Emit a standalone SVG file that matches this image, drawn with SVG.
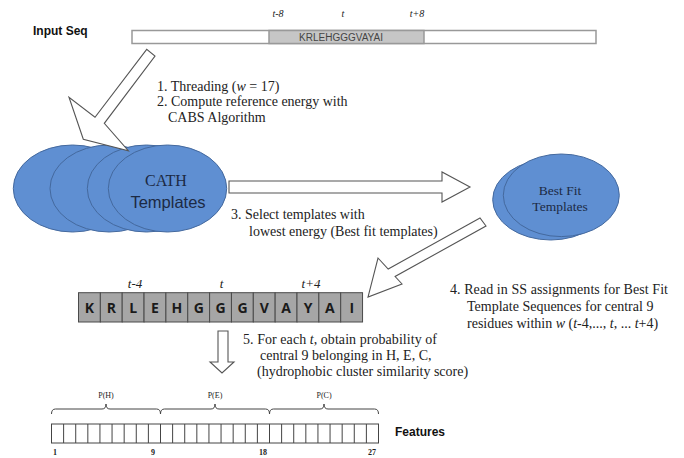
<svg xmlns="http://www.w3.org/2000/svg" width="684" height="458" viewBox="0 0 684 458">
<defs>
<style>
.serif{font-family:"Liberation Serif","Times New Roman",serif;fill:#222}
.sans{font-family:"Liberation Sans",Arial,sans-serif}
.bold{font-family:"Liberation Sans",Arial,sans-serif;font-weight:bold;fill:#111}
.step{font-family:"Liberation Serif","Times New Roman",serif;font-size:14px;fill:#222}
.it{font-style:italic}
.ell{fill:#5f8fd2;stroke:#44699e;stroke-width:1}
.arrow{fill:#fff;stroke:#555;stroke-width:1.1;stroke-linejoin:miter}
.seqbox{fill:#a6a6a6;stroke:#4a4a4a;stroke-width:1}
.seqltr{font-family:"Open Sans","Liberation Sans",sans-serif;font-weight:bold;font-size:14px;fill:#1a1a1a;text-anchor:middle}
.cell{fill:#fff;stroke:#444;stroke-width:1}
.brace{fill:none;stroke:#444;stroke-width:1}
.small{font-family:"Liberation Serif","Times New Roman",serif;font-size:8px;fill:#222;text-anchor:middle}
</style>
</defs>
<rect width="684" height="458" fill="#fff"/>

<g id="input-seq">
<text class="bold" x="33" y="35" font-size="12">Input Seq</text>
<rect x="132" y="30.5" width="464" height="13" fill="#fff" stroke="#999" stroke-width="1.5"/>
<rect x="269" y="30.5" width="155" height="13" fill="#c6c6c6" stroke="#999" stroke-width="1.5"/>
<text class="sans" x="341" y="41" font-size="10" fill="#444" text-anchor="middle">KRLEHGGGVAYAI</text>
<text class="serif it" x="278" y="17" font-size="10" text-anchor="middle">t-8</text>
<text class="serif it" x="343" y="17" font-size="10" text-anchor="middle">t</text>
<text class="serif it" x="417" y="17" font-size="10" text-anchor="middle">t+8</text>
</g>

<g id="cath-templates">
<ellipse class="ell" cx="72.5" cy="188.5" rx="59.2" ry="43.5"/>
<ellipse class="ell" cx="109.2" cy="188.5" rx="59.2" ry="43.5"/>
<ellipse class="ell" cx="146.5" cy="188.5" rx="59.2" ry="43.5"/>
<ellipse class="ell" cx="167.5" cy="188.5" rx="59.2" ry="43.5"/>
<text class="serif" x="166" y="186" font-size="16" fill="#1c2a44" text-anchor="middle" style="fill:#1c2a44">CATH</text>
<text class="sans" x="168" y="208" font-size="16.5" fill="#1c2a44" text-anchor="middle">Templates</text>
</g>

<g id="best-fit-templates">
<ellipse class="ell" cx="550.7" cy="199.7" rx="58" ry="40.3"/>
<ellipse class="ell" cx="561.3" cy="195.3" rx="58" ry="41.3"/>
<text class="serif" x="560" y="195" font-size="13.5" text-anchor="middle" style="fill:#1c2a44">Best Fit</text>
<text class="serif" x="560" y="211" font-size="13.5" text-anchor="middle" style="fill:#1c2a44">Templates</text>
</g>

<g id="sequence-window">
<text class="serif it" x="135" y="288" font-size="13" text-anchor="middle">t-4</text>
<text class="serif it" x="221.5" y="288" font-size="13" text-anchor="middle">t</text>
<text class="serif it" x="311" y="288" font-size="13" text-anchor="middle">t+4</text>
<rect class="seqbox" x="78.5" y="292.7" width="21.85" height="29.3"/>
<rect class="seqbox" x="100.35" y="292.7" width="21.85" height="29.3"/>
<rect class="seqbox" x="122.2" y="292.7" width="21.85" height="29.3"/>
<rect class="seqbox" x="144.05" y="292.7" width="21.85" height="29.3"/>
<rect class="seqbox" x="165.9" y="292.7" width="21.85" height="29.3"/>
<rect class="seqbox" x="187.75" y="292.7" width="21.85" height="29.3"/>
<rect class="seqbox" x="209.6" y="292.7" width="21.85" height="29.3"/>
<rect class="seqbox" x="231.45" y="292.7" width="21.85" height="29.3"/>
<rect class="seqbox" x="253.3" y="292.7" width="21.85" height="29.3"/>
<rect class="seqbox" x="275.15" y="292.7" width="21.85" height="29.3"/>
<rect class="seqbox" x="297" y="292.7" width="21.85" height="29.3"/>
<rect class="seqbox" x="318.85" y="292.7" width="21.85" height="29.3"/>
<rect class="seqbox" x="340.7" y="292.7" width="21.85" height="29.3"/>
<text class="seqltr" y="312.5"><tspan x="89.4">K</tspan><tspan x="111.3">R</tspan><tspan x="133.2">L</tspan><tspan x="155">E</tspan><tspan x="176.9">H</tspan><tspan x="198.7">G</tspan><tspan x="220.6">G</tspan><tspan x="242.5">G</tspan><tspan x="264.3">V</tspan><tspan x="286.2">A</tspan><tspan x="308">Y</tspan><tspan x="329.9">A</tspan><tspan x="351.7">I</tspan></text>
</g>

<g id="features">
<text class="small" x="106" y="398">P(H)</text>
<text class="small" x="215" y="398">P(E)</text>
<text class="small" x="324" y="398">P(C)</text>
<path class="brace" d="M51.5,414 Q51.5,409 55.5,409 L102,409 Q106,409 106,404 Q106,409 110,409 L156.5,409 Q160.5,409 160.5,414"/>
<path class="brace" d="M160.5,414 Q160.5,409 164.5,409 L211,409 Q215,409 215,404 Q215,409 219,409 L265.5,409 Q269.5,409 269.5,414"/>
<path class="brace" d="M269.5,414 Q269.5,409 273.5,409 L320,409 Q324,409 324,404 Q324,409 328,409 L374.5,409 Q378.5,409 378.5,414"/>
<rect class="cell" x="51.5" y="424" width="327" height="19"/>
<path class="brace" d="M63.61,424V443M75.72,424V443M87.83,424V443M99.94,424V443M112.06,424V443M124.17,424V443M136.28,424V443M148.39,424V443M160.5,424V443M172.61,424V443M184.72,424V443M196.83,424V443M208.94,424V443M221.06,424V443M233.17,424V443M245.28,424V443M257.39,424V443M269.5,424V443M281.61,424V443M293.72,424V443M305.83,424V443M317.94,424V443M330.06,424V443M342.17,424V443M354.28,424V443M366.39,424V443"/>
<text class="small" font-weight="bold" x="55" y="455">1</text>
<text class="small" font-weight="bold" x="153" y="455">9</text>
<text class="small" font-weight="bold" x="263" y="455">18</text>
<text class="small" font-weight="bold" x="372" y="455">27</text>
<text class="bold" x="395" y="436" font-size="12">Features</text>
</g>

<g id="connectors">
<polygon class="arrow" points="146.7,49.3 95,117.3 69,97.3 83.3,139.3 128.3,150.7 104.3,123.3 155,56"/>
<polygon class="arrow" points="229,181 442,181 442,172 470,187 442,202 442,193 229,193"/>
<polygon class="arrow" points="480,218 388.2,269 378,258 368,297 402,284 395.1,276.5 486,226"/>
<polygon class="arrow" points="218,331 228,331 228,362 234,362 222,373 210,362 218,362"/>
</g>

<g id="step-labels">
<text class="step" x="157" y="91">1. Threading  (<tspan class="it">w</tspan> = 17)</text>
<text class="step" x="157" y="106">2. Compute reference energy with</text>
<text class="step" x="168" y="122">CABS Algorithm</text>
<text class="step" x="231" y="219">3. Select templates with</text>
<text class="step" x="249" y="236">lowest energy (Best fit templates)</text>
<text class="step" x="450" y="294" textLength="218">4.  Read in SS assignments  for Best Fit</text>
<text class="step" x="467" y="311">Template Sequences for central 9</text>
<text class="step" x="467" y="328">residues within  <tspan class="it">w</tspan> (<tspan class="it">t</tspan>-4,..., <tspan class="it">t</tspan>, ... <tspan class="it">t</tspan>+4)</text>
<text class="step" x="243" y="344" textLength="194">5. For each <tspan class="it">t</tspan>, obtain probability of</text>
<text class="step" x="260" y="360">central 9 belonging in H, E, C,</text>
<text class="step" x="257" y="376">(hydrophobic cluster similarity  score)</text>
</g>
</svg>
